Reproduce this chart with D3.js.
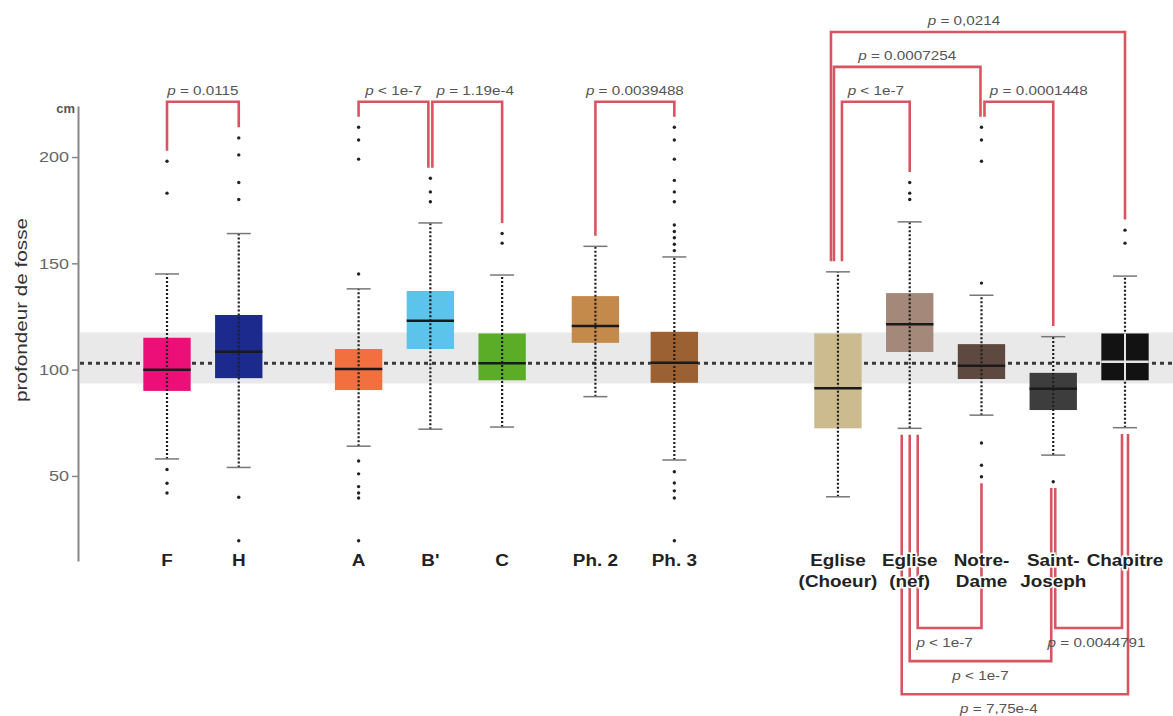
<!DOCTYPE html>
<html>
<head>
<meta charset="utf-8">
<script src="https://cdn.jsdelivr.net/npm/d3@7"></script>
<style>
    body { margin: 0; background: #fff; }
    svg { display: block; font-family: "Liberation Sans", Arial, sans-serif; }
</style>
</head>
<body>
<svg id="chart" width="1173" height="716"></svg>
<script>
// categories and the labels under each box
var categories = ["F", "H", "A", "B'", "C", "Ph. 2", "Ph. 3",
    "Eglise (Choeur)", "Eglise (nef)", "Notre-Dame", "Saint-Joseph", "Chapitre"];
var labelLines = [["F"], ["H"], ["A"], ["B'"], ["C"], ["Ph. 2"], ["Ph. 3"],
    ["Eglise", "(Choeur)"], ["Eglise", "(nef)"], ["Notre-", "Dame"], ["Saint-", "Joseph"], ["Chapitre"]];
// extra spacing (in box slots) before each category
var gapBefore = [0, 0, 0.67, 0, 0, 0.3, 0.1, 1.28, 0, 0, 0, 0];

// box statistics, cm
var q1          = [90,   96,    90.4,  109.7, 95,    112.6, 93.8,  72.4, 108.3, 95.6,  81,    95];
var medians     = [100,  108.4, 100.3, 123,   103,   120.5, 103.2, 91.2, 121.4, 101.8, 91,    103.7];
var q3          = [115,  125.7, 109.7, 137,   117,   134.6, 117.8, 117,  136,   112,   98.5,  117];
var whiskerLow  = [58,   54,    64,    72,    73,    87.3,  57.5,  40.2, 72.4,  78.6,  59.8,  72.7];
var whiskerHigh = [145,  164,   138,   169,   144.5, 158,   153,   146,  169.5, 135,   115.5, 144];
var outliers = [
    [198, 183, 53, 46.6, 42],
    [209, 201, 188, 180, 40, 19.5],
    [214, 208, 199, 145, 57, 51, 45, 42, 39.6, 19.5],
    [190, 183.6, 179],
    [164, 159.5],
    [],
    [214, 208, 199, 189, 183.6, 179, 168, 165, 162, 159, 156, 52, 46.7, 43, 39.6, 19.5],
    [],
    [188, 183, 180],
    [214, 208, 198, 140.7, 65.5, 55, 49.6],
    [47.3],
    [165.6, 159.5]
];
var boxColors = ["#ec0f78", "#1b2a8c", "#f2703f", "#5cc4ea", "#5bac27", "#c48a4c", "#9c6132",
    "#cbbb8f", "#a4887a", "#5d4940", "#3d3d3d", "#121212"];

// reference mean line and band
var referenceValue = 103;
var referenceBand = [93.5, 117.5];
var yTicks = [50, 100, 150, 200];
var yExtent = [10, 224];

// significance brackets
var brackets = [
    { a: "F", b: "H", label: "0.0115", op: "=", side: "top", tier: 0 },
    { a: "A", b: "B'", label: "1e-7", op: "<", side: "top", tier: 0, dxB: -2 },
    { a: "B'", b: "C", label: "1.19e-4", op: "=", side: "top", tier: 0, dxA: 2, labelDx: 8 },
    { a: "Ph. 2", b: "Ph. 3", label: "0.0039488", op: "=", side: "top", tier: 0 },
    { a: "Eglise (Choeur)", b: "Eglise (nef)", label: "1e-7", op: "<", side: "top", tier: 0, dxA: 4 },
    { a: "Eglise (Choeur)", b: "Notre-Dame", label: "0.0007254", op: "=", side: "top", tier: 1, dxA: -4, dxB: -1 },
    { a: "Eglise (Choeur)", b: "Chapitre", label: "0,0214", op: "=", side: "top", tier: 2, dxA: -7, labelDx: -14 },
    { a: "Notre-Dame", b: "Saint-Joseph", label: "0.0001448", op: "=", side: "top", tier: 0, dxA: 3, labelDx: 20 },
    { a: "Eglise (nef)", b: "Notre-Dame", label: "1e-7", op: "<", side: "bottom", tier: 0, dxA: 8, labelDx: -5 },
    { a: "Eglise (nef)", b: "Saint-Joseph", label: "1e-7", op: "<", side: "bottom", tier: 1, dxB: -2 },
    { a: "Eglise (nef)", b: "Chapitre", label: "7,75e-4", op: "=", side: "bottom", tier: 2, dxA: -8, dxB: 3, labelDx: -16 },
    { a: "Saint-Joseph", b: "Chapitre", label: "0.0044791", op: "=", side: "bottom", tier: 0, dxA: 2, dxB: -3, labelDx: 8 }
];

var width = 1173,
    height = 716,
    axisX = 78,
    bracketColor = '#d6404f';

var svg = d3.select('#chart');

// stretch text horizontally like in the original figure
function stretch(sel, k) {
    sel.each(function () {
        var w = this.getComputedTextLength();
        d3.select(this).attr('textLength', w * k).attr('lengthAdjust', 'spacingAndGlyphs');
    });
}

var slots = [], acc = 0;
categories.forEach(function (c, i) {
    acc += gapBefore[i];
    slots.push(i + acc);
});

var x = d3.scaleLinear()
    .domain([0, slots[slots.length - 1]])
    .range([167, 1125]);
var unit = x(1) - x(0);
var boxW = unit * 0.66;

var y = d3.scaleLinear()
    .domain(yExtent)
    .range([561, 106]);

function xOf(name) { return x(slots[categories.indexOf(name)]); }

// grey band + dotted reference line
svg.append('rect')
    .attr('x', axisX + 2)
    .attr('y', y(referenceBand[1]))
    .attr('width', width - axisX - 2)
    .attr('height', y(referenceBand[0]) - y(referenceBand[1]))
    .attr('fill', '#e9e9e9');

svg.append('line')
    .attr('x1', axisX + 2).attr('x2', width)
    .attr('y1', y(referenceValue)).attr('y2', y(referenceValue))
    .attr('stroke', '#3a3a3a')
    .attr('stroke-width', 3)
    .attr('stroke-dasharray', '4,4');

// y axis
var axis = svg.append('g')
    .attr('transform', 'translate(' + axisX + ',0)')
    .call(d3.axisLeft(y).tickValues(yTicks).tickSize(6).tickSizeOuter(0).tickPadding(3));
axis.select('.domain').attr('stroke', '#888').attr('stroke-width', 2);
axis.selectAll('.tick line').attr('stroke', '#888').attr('stroke-width', 1.5);
axis.selectAll('.tick text')
    .attr('fill', '#666')
    .style('font-size', '15px')
    .style('font-family', '"Liberation Sans", Arial, sans-serif');
stretch(axis.selectAll('.tick text'), 1.2);

svg.append('text')
    .attr('x', 75).attr('y', 113)
    .attr('text-anchor', 'end')
    .attr('fill', '#555')
    .style('font', 'bold 13px "Liberation Sans", Arial, sans-serif')
    .text('cm');

svg.append('text')
    .attr('transform', 'translate(27,310) rotate(-90)')
    .attr('text-anchor', 'middle')
    .attr('fill', '#333')
    .attr('textLength', 184)
    .attr('lengthAdjust', 'spacingAndGlyphs')
    .style('font-size', '16px')
    .text('profondeur de fosse');

// boxes
var boxes = svg.selectAll('g.box')
    .data(categories)
    .enter()
    .append('g')
    .attr('class', 'box')
    .attr('transform', function (d, i) { return 'translate(' + x(slots[i]) + ',0)'; });

boxes.append('rect')
    .attr('x', -boxW / 2)
    .attr('y', function (d, i) { return y(q3[i]); })
    .attr('width', boxW)
    .attr('height', function (d, i) { return y(q1[i]) - y(q3[i]); })
    .attr('fill', function (d, i) { return boxColors[i]; });

function isDark(i) { return d3.hsl(boxColors[i]).l < 0.15; }

// data points along the whisker
boxes.append('line')
    .attr('y1', function (d, i) { return y(whiskerLow[i]); })
    .attr('y2', function (d, i) { return y(whiskerHigh[i]); })
    .attr('stroke', '#1e1e1e')
    .attr('stroke-width', 2.2)
    .attr('stroke-dasharray', '2,2');

boxes.filter(function (d, i) { return isDark(i); })
    .append('line')
    .attr('y1', function (d) { var i = categories.indexOf(d); return y(q1[i]); })
    .attr('y2', function (d) { var i = categories.indexOf(d); return y(q3[i]); })
    .attr('stroke', '#e4e4e4')
    .attr('stroke-width', 2);

// whisker caps
[whiskerLow, whiskerHigh].forEach(function (arr) {
    boxes.append('line')
        .attr('x1', -12).attr('x2', 12)
        .attr('y1', function (d, i) { return y(arr[i]); })
        .attr('y2', function (d, i) { return y(arr[i]); })
        .attr('stroke', '#777')
        .attr('stroke-width', 1.5);
});

boxes.append('line')
    .attr('x1', -boxW / 2).attr('x2', boxW / 2)
    .attr('y1', function (d, i) { return y(medians[i]); })
    .attr('y2', function (d, i) { return y(medians[i]); })
    .attr('stroke', function (d, i) { return isDark(i) ? '#e4e4e4' : '#1a1a1a'; })
    .attr('stroke-width', 2.5);

boxes.each(function (d, i) {
    d3.select(this).selectAll('circle')
        .data(outliers[i])
        .enter()
        .append('circle')
        .attr('cx', 0)
        .attr('cy', function (v) { return y(v); })
        .attr('r', 1.7)
        .attr('fill', '#222');
});

// brackets
function dataMax(i) { return d3.max([whiskerHigh[i]].concat(outliers[i])); }
function dataMin(i) { return d3.min([whiskerLow[i]].concat(outliers[i])); }

brackets.forEach(function (b) {
    var ia = categories.indexOf(b.a), ib = categories.indexOf(b.b);
    var xa = xOf(b.a) + (b.dxA || 0), xb = xOf(b.b) + (b.dxB || 0);
    var level, ya, yb, ly;
    if (b.side === 'top') {
        level = y(226 + b.tier * 16.4);
        ya = y(dataMax(ia) + 5);
        yb = y(dataMax(ib) + 5);
        ly = level - 7;
    } else {
        level = y(-21.5 - b.tier * 15.6);
        ya = y(dataMin(ia) - 3);
        yb = y(dataMin(ib) - 3);
        ly = level + 19;
    }
    svg.append('path')
        .attr('d', 'M' + xa + ',' + ya + 'L' + xa + ',' + level + 'L' + xb + ',' + level + 'L' + xb + ',' + yb)
        .attr('fill', 'none')
        .attr('stroke', bracketColor)
        .attr('stroke-width', 2.6)
        .attr('opacity', 0.9);

    var t = svg.append('text')
        .attr('x', (xa + xb) / 2 + (b.labelDx || 0))
        .attr('y', ly)
        .attr('text-anchor', 'middle')
        .attr('fill', '#555')
        .style('font-size', '12.5px');
    t.append('tspan').style('font-style', 'italic').text('p');
    t.append('tspan').text(' ' + b.op + ' ' + b.label);
    stretch(t, 1.22);
});

// category labels
var labels = svg.selectAll('text.cat')
    .data(categories)
    .enter()
    .append('text')
    .attr('class', 'cat')
    .attr('x', function (d, i) { return x(slots[i]); })
    .attr('y', 566)
    .attr('text-anchor', 'middle')
    .attr('fill', '#222')
    .attr('stroke', '#fff')
    .attr('stroke-width', 3)
    .attr('paint-order', 'stroke')
    .style('font', 'bold 16px "Liberation Sans", Arial, sans-serif');

labels.each(function (d, i) {
    var sel = d3.select(this);
    labelLines[i].forEach(function (line, k) {
        sel.append('tspan')
            .attr('x', x(slots[i]))
            .attr('dy', k === 0 ? 0 : 21)
            .text(line);
    });
});
labels.selectAll('tspan').call(stretch, 1.18);
</script>
</body>
</html>
